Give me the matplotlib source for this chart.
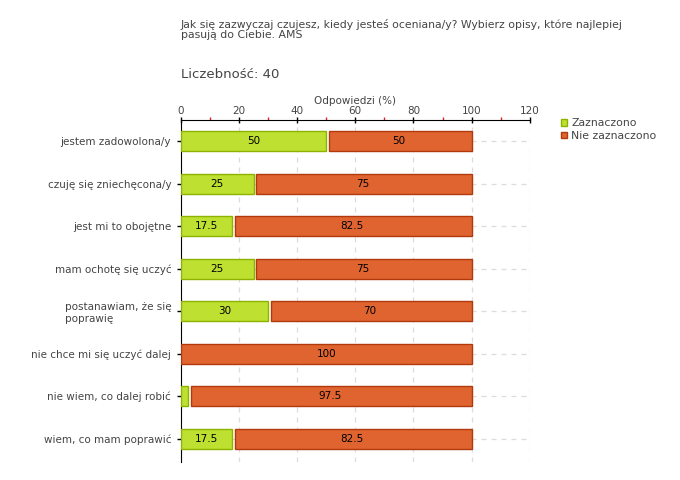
import matplotlib
matplotlib.use("Agg")
import matplotlib.pyplot as plt
from matplotlib.ticker import MultipleLocator

categories = ["jestem zadowolona/y", "czuję się zniechęcona/y", "jest mi to obojętne",
              "mam ochotę się uczyć", "postanawiam, że się\npoprawię",
              "nie chce mi się uczyć dalej", "nie wiem, co dalej robić",
              "wiem, co mam poprawić"]
zaznaczono = [50, 25, 17.5, 25, 30, 0, 2.5, 17.5]
nie_zaznaczono = [50, 75, 82.5, 75, 70, 100, 97.5, 82.5]

green, green_edge = "#bee030", "#8db300"
orange, orange_edge = "#e06430", "#b03a0c"
text_col = "#444444"

fig = plt.figure(figsize=(6.8, 4.8), dpi=100)
ax = fig.add_axes([0.266, 0.0375, 0.513, 0.713])

y = list(range(len(categories)))
gap = [1 if z > 0 else 0 for z in zaznaczono]
bh = 0.47

ax.barh(y, zaznaczono, height=bh, color=green, edgecolor=green_edge, linewidth=1,
        label="Zaznaczono", zorder=3)
ax.barh(y, [n - g for n, g in zip(nie_zaznaczono, gap)],
        left=[z + g for z, g in zip(zaznaczono, gap)], height=bh,
        color=orange, edgecolor=orange_edge, linewidth=1,
        label="Nie zaznaczono", zorder=3)

for i, (z, n) in enumerate(zip(zaznaczono, nie_zaznaczono)):
    if z >= 10:
        ax.text(z / 2, i, f"{z:g}", ha="center", va="center", fontsize=7.5,
                color="black", zorder=4)
    ax.text(z + n / 2, i, f"{n:g}", ha="center", va="center", fontsize=7.5,
            color="black", zorder=4)

ax.set_xlim(0, 120)
ax.set_ylim(len(categories) - 0.45, -0.5)
ax.xaxis.set_major_locator(MultipleLocator(20))
ax.xaxis.set_minor_locator(MultipleLocator(10))
ax.xaxis.tick_top()
ax.xaxis.set_label_position("top")
ax.set_xlabel("Odpowiedzi (%)", fontsize=7.5, color=text_col, labelpad=2)
ax.tick_params(axis="x", which="major", direction="inout", length=5, width=1,
               color="black", labelsize=7.5, labelcolor=text_col, pad=0)
ax.tick_params(axis="x", which="minor", direction="out", length=2.5, width=1,
               color="#dd2222")
ax.set_yticks(y)
ax.set_yticklabels(categories, fontsize=7.5, color=text_col, multialignment="left")
ax.tick_params(axis="y", direction="out", length=3, width=1, color="black", pad=4)

for s in ["right", "bottom"]:
    ax.spines[s].set_visible(False)
ax.spines["top"].set_color("black")
ax.spines["left"].set_color("black")
ax.grid(True, linestyle=(0, (4, 4)), color="#dcdcdc", linewidth=0.9, zorder=0)
ax.set_axisbelow(True)

fig.text(181 / 680, 1 - 19 / 480,
         "Jak się zazwyczaj czujesz, kiedy jesteś oceniana/y? Wybierz opisy, które najlepiej\npasują do Ciebie. AMS",
         fontsize=7.8, color=text_col, va="top", ha="left", linespacing=1.0)
fig.text(181 / 680, 1 - 75 / 480, "Liczebność: 40", fontsize=9.5, color=text_col,
         va="center", ha="left")

fig.legend(loc="upper left", bbox_to_anchor=(557 / 680, 1 - 114 / 480),
           frameon=False, fontsize=7.8, handlelength=0.5, handleheight=0.5,
           handletextpad=0.4, labelspacing=0.25, borderaxespad=0, labelcolor=text_col)

fig.savefig("out.png", dpi=100)
